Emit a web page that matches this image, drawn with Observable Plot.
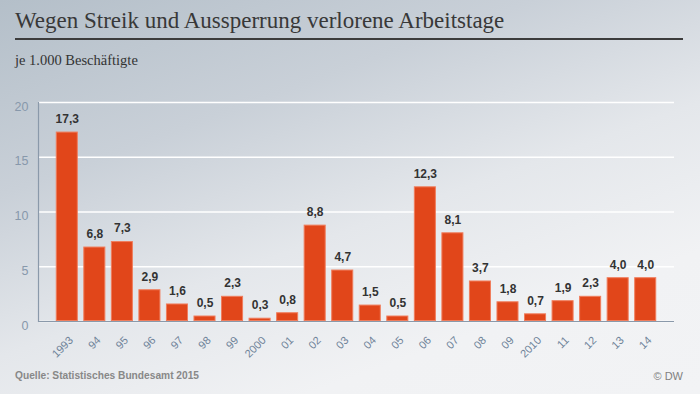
<!DOCTYPE html>
<html><head><meta charset="utf-8">
<script src="https://cdn.jsdelivr.net/npm/d3@7"></script>
<script src="https://cdn.jsdelivr.net/npm/@observablehq/plot@0.6"></script>
<style>
html,body{margin:0;padding:0;}
#chart{position:relative;width:700px;height:394px;overflow:hidden;background:linear-gradient(160deg,#b4bfc9 0%,#c9d0d8 30%,#e4e7eb 55%,#f1f2f4 78%,#f2f3f5 100%);font-family:"Liberation Sans",Arial,sans-serif;}
#title{position:absolute;left:15px;top:10px;font-family:"Liberation Serif",serif;font-size:23px;line-height:22px;color:#383838;white-space:nowrap;}
#rule{position:absolute;left:15px;top:38px;width:668px;height:0;border-top:2px solid #3c3c3c;}
#subtitle{position:absolute;left:15px;top:53px;font-family:"Liberation Serif",serif;font-size:14.5px;line-height:14px;color:#333;white-space:nowrap;}
#plot{position:absolute;left:0;top:80px;}
#source{position:absolute;left:15px;top:370px;font-size:10.2px;line-height:12px;font-weight:bold;color:#888;}
#copy{position:absolute;right:17px;top:370px;font-size:11px;line-height:12px;color:#808080;}
</style></head>
<body>
<div id="chart">
  <div id="title">Wegen Streik und Aussperrung verlorene Arbeitstage</div>
  <div id="rule"></div>
  <div id="subtitle">je 1.000 Beschäftigte</div>
  <div id="plot"></div>
  <div id="source">Quelle: Statistisches Bundesamt 2015</div>
  <div id="copy">© DW</div>
</div>
<script>
const years = ["1993","94","95","96","97","98","99","2000","01","02","03","04","05","06","07","08","09","2010","11","12","13","14"];
const values = [17.3,6.8,7.3,2.9,1.6,0.5,2.3,0.3,0.8,8.8,4.7,1.5,0.5,12.3,8.1,3.7,1.8,0.7,1.9,2.3,4.0,4.0];
const yTicks = [0,5,10,15,20];

const data = years.map((y, i) => ({year: y, value: values[i]}));
const fmt = v => v.toFixed(1).replace(".", ",");

const chart = Plot.plot({
  width: 700,
  height: 280,
  marginTop: 22,
  marginBottom: 39,
  marginLeft: 38,
  marginRight: 26,
  style: {background: "transparent", fontFamily: "'Liberation Sans', Arial, sans-serif", overflow: "visible"},
  x: {domain: years, paddingInner: 0.2, paddingOuter: 0.645, round: false, label: null, axis: null},
  y: {domain: [0, 20], label: null, axis: null},
  marks: [
    Plot.gridY(yTicks, {stroke: "#ffffff", strokeOpacity: 1, strokeWidth: 1.3}),
    Plot.barY(data, {x: "year", y: "value", fill: "#e1461a", stroke: "#f07d5c", strokeWidth: 1, inset: 0.5}),
    Plot.ruleY([0], {stroke: "#8a99aa", strokeWidth: 1.2}),
    Plot.frame({anchor: "left", stroke: "#8a99aa", strokeWidth: 1.2}),
    Plot.axisY(yTicks, {tickSize: 0, tickPadding: 10, fontSize: 12.5, color: "#8798ab", dy: 4}),
    Plot.text(years, {x: d => d, frameAnchor: "bottom", rotate: -45, textAnchor: "end", lineAnchor: "middle", dx: 4, dy: 17, fontSize: 11, fill: "#6f8399"}),
    Plot.text(data, {x: "year", y: "value", text: d => fmt(d.value), dy: -13, fontSize: 12, fontWeight: "bold", fill: "#333333"})
  ]
});
document.getElementById("plot").appendChild(chart);
</script>
</body></html>
